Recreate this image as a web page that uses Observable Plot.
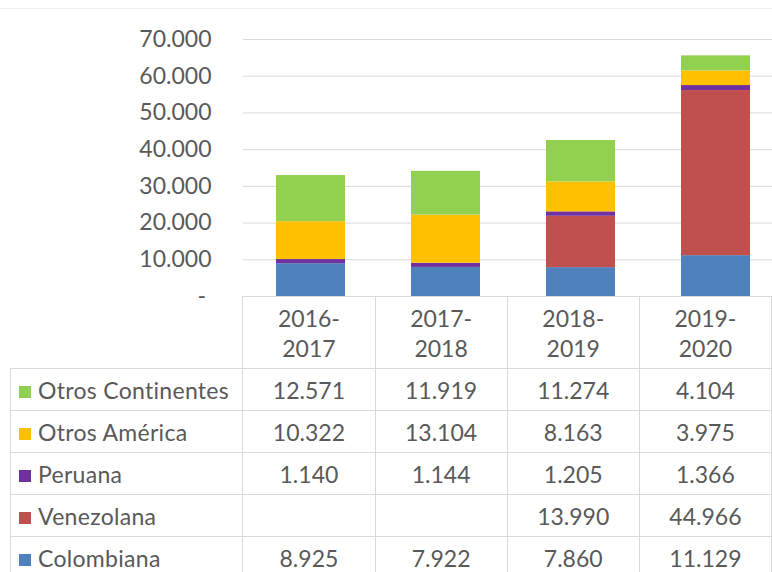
<!DOCTYPE html>
<html>
<head>
<meta charset="utf-8">
<script src="https://cdn.jsdelivr.net/npm/d3@7"></script>
<script src="https://cdn.jsdelivr.net/npm/@observablehq/plot@0.6"></script>
<style>
  html, body { margin: 0; padding: 0; background: #fff; overflow: hidden; }
  #wrap { position: relative; width: 772px; height: 572px; overflow: hidden; font-family: Lato, "Open Sans", sans-serif; color: #595959; }
  #topline { position: absolute; left: 0; top: 8px; width: 772px; height: 0; border-top: 1px solid #efefef; }
  #chart { position: absolute; left: 0; top: 0; }
  #tbl { position: absolute; left: 10px; top: 296px; border-collapse: collapse; table-layout: fixed; }
  #tbl td { border: 1px solid #d9d9d9; padding: 0; text-align: center; font-size: 23px; color: #595959; height: 41px; white-space: nowrap; }
  #tbl tr.head td { height: 71px; line-height: 30px; }
  #tbl tr.head td.blank { border: none; }
  #tbl td.lab { text-align: left; padding-left: 8px; letter-spacing: 0.3px; }
  .sw { display: inline-block; width: 12px; height: 12px; margin-right: 7px; vertical-align: 1px; }
</style>
</head>
<body>
<div id="wrap">
  <div id="topline"></div>
  <div id="chart"></div>
  <table id="tbl"></table>
</div>
<script>
const categories = ["2016-2017", "2017-2018", "2018-2019", "2019-2020"];
const headerLines = [["2016-", "2017"], ["2017-", "2018"], ["2018-", "2019"], ["2019-", "2020"]];
const seriesNames = ["Otros Continentes", "Otros América", "Peruana", "Venezolana", "Colombiana"];
const seriesColors = ["#92D050", "#FFC000", "#7030A0", "#C0504D", "#4F81BD"];
const otrosContinentes = [12571, 11919, 11274, 4104];
const otrosAmerica = [10322, 13104, 8163, 3975];
const peruana = [1140, 1144, 1205, 1366];
const venezolana = [null, null, 13990, 44966];
const colombiana = [8925, 7922, 7860, 11129];
const yTicks = [10000, 20000, 30000, 40000, 50000, 60000, 70000];

const seriesValues = [otrosContinentes, otrosAmerica, peruana, venezolana, colombiana];

const locale = d3.formatLocale({decimal: ",", thousands: ".", grouping: [3], currency: ["", ""]});
const fmt = locale.format(",d");

// stack bottom-to-top: Colombiana, Venezolana, Peruana, Otros América, Otros Continentes
const rows = [];
for (let s = seriesNames.length - 1; s >= 0; s--) {
  categories.forEach((c, i) => {
    const v = seriesValues[s][i];
    if (v != null) rows.push({cat: c, serie: seriesNames[s], value: v});
  });
}

const chart = Plot.plot({
  width: 772,
  height: 300,
  marginTop: 39,
  marginBottom: 4,
  marginLeft: 243,
  marginRight: 0,
  style: {fontFamily: "Lato, 'Open Sans', sans-serif", fontSize: "23px", color: "#595959", background: "transparent", overflow: "visible"},
  x: {domain: categories, range: [243, 783], paddingInner: 0.49, paddingOuter: 0.245, axis: null},
  y: {domain: [0, 70000], axis: null},
  color: {domain: seriesNames, range: seriesColors},
  marks: [
    Plot.gridY(yTicks, {stroke: "#d9d9d9", strokeOpacity: 1, strokeWidth: 1}),
    Plot.barY(rows, {x: "cat", y: "value", fill: "serie", order: seriesNames.slice().reverse()}),
    Plot.ruleY([0], {stroke: "#d9d9d9", strokeWidth: 1}),
    Plot.axisY(yTicks, {tickSize: 0, tickPadding: 32, tickFormat: fmt, fill: "#595959", fontSize: 23, label: null}),
    Plot.text([0], {y: d => d, text: () => "-", frameAnchor: "left", dx: -46, fill: "#595959", fontSize: 23})
  ]
});
document.getElementById("chart").appendChild(chart);

// data table
const tbl = document.getElementById("tbl");
let html = '<colgroup><col style="width:233px">' + categories.map(() => '<col style="width:135px">').join("") + '</colgroup>';
html += '<tr class="head"><td class="blank"></td>' + headerLines.map(l => `<td>${l[0]}<br>${l[1]}</td>`).join("") + '</tr>';
seriesNames.forEach((name, s) => {
  html += `<tr><td class="lab"><span class="sw" style="background:${seriesColors[s]}"></span>${name}</td>` +
    seriesValues[s].map(v => `<td>${v == null ? "" : fmt(v)}</td>`).join("") + '</tr>';
});
tbl.innerHTML = html;
</script>
</body>
</html>
